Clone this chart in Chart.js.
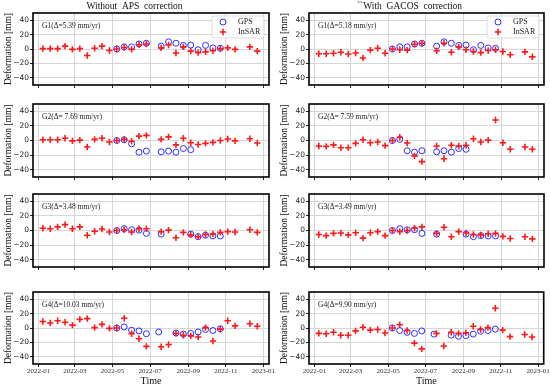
<!DOCTYPE html>
<html>
<head>
<meta charset="utf-8">
<script src="https://cdn.jsdelivr.net/npm/chart.js@4.4.0/dist/chart.umd.min.js"></script>
<style>
html, body { margin: 0; padding: 0; background: #fff; }
body { width: 550px; height: 388px; position: relative; overflow: hidden; }
canvas { position: absolute; }
</style>
</head>
<body>
<script>
'use strict';

// x axis tick labels (month starts)
const monthTicks = ['2022-01', '2022-03', '2022-05', '2022-07', '2022-09', '2022-11', '2023-01'];
const yTicks = [-40, -20, 0, 20, 40];

// Sentinel-1 acquisitions (12 day repeat, two gaps)
const insarDates = [
    '2022-01-08', '2022-01-20', '2022-02-01', '2022-02-13', '2022-02-25',
    '2022-03-09', '2022-03-21', '2022-04-02', '2022-04-14', '2022-04-26',
    '2022-05-08', '2022-05-20', '2022-06-01', '2022-06-13', '2022-06-25',
    '2022-07-19', '2022-07-31', '2022-08-12', '2022-08-24', '2022-09-05',
    '2022-09-17', '2022-09-29', '2022-10-11', '2022-10-23', '2022-11-04',
    '2022-11-16', '2022-12-10', '2022-12-22'
];
const gpsDates = [
    '2022-05-08', '2022-05-20', '2022-06-01', '2022-06-13', '2022-06-25',
    '2022-07-15', '2022-07-19', '2022-07-31', '2022-08-12', '2022-08-24',
    '2022-09-05', '2022-09-17', '2022-09-29', '2022-10-11', '2022-10-23'
];

// InSAR deformation [mm], without APS correction
const insarG1Raw = [0.5, 0.5, 0.5, 4, -0.5, 0.5, -9, 1, 4, -2, 0, 2, -0.5, 6, 7, 1.5, 5.5, -5.5, 3, -3, -5, -4, -2.5, 0.5, 1.5, -0.5, 3, -3];
const insarG2Raw = [1, 1, 1, 3, -0.5, 0.5, -9, 1.5, 3, -2, 0, 1.5, -1, 6, 7, 1.5, 5, -6, 3, -3, -5.5, -4, -2.5, 0, 2, -0.5, 2.5, -3.5];
const insarG3Raw = [3, 2.5, 5, 8, 2.5, 5, -6.5, -1, 2, -2, 0, 1, -2, 2.5, 2.5, -1.5, 0.5, -10, -2.5, -6, -8.5, -5.5, -5, -2.5, -1.5, -2, 1, -2.5];
const insarG4Raw = [9, 7, 10, 8, 4, 12, 13, 0.5, 5, -0.5, 0, 13.5, -8, -15, -25.5, -26, -23, -7.5, -10, -11, -12.5, 0.5, -18, -1.5, 10, 3, 6, 2.5];

// InSAR deformation [mm], with GACOS correction
const insarG1Gacos = [-6.5, -6.5, -6, -4.5, -7, -5.5, -12.5, -1.5, 1, -6, 0, -1, -1.5, 6.5, 8, -2.5, 8, -4.5, 3, -1, -3.5, -5, -2, -1, -3.5, -8, -4, -11];
const insarG2Gacos = [-7.5, -8, -6, -10, -10, -4, 1, -3, -2, -7, 0, 4.5, -3.5, -21, -29, -7.5, -25, -6.5, -7.5, -6.5, 2.5, -2, 0.5, 28, -3, -12, -9, -12];
const insarG3Gacos = [-5.5, -7, -4, -3.5, -6, -3, -10.5, -3, -1.5, -7, 0, -1.5, 0, 3, 5, -4, 4.5, -8.5, -1.5, -3.5, -5.5, -6, -4.5, -4, -8, -11, -8.5, -11.5];
const insarG4Gacos = [-7.5, -8, -6, -10, -10, -4, 1, -3, -2, -7, 0, 4.5, -3.5, -21, -29, -7.5, -25, -6, -7.5, -6.5, 2.5, -2, 0.5, 27.5, -3, -12, -9, -12.5];

// GPS deformation [mm] on gpsDates (null = no value)
const gpsG1Raw = [0, 3, 3, 7, 8, null, 4, 10, 8, 5, 5.5, -1, 5, 1.5, 1];
const gpsG2Raw = [0, 1, -4.5, -16, -14.5, null, -15.5, -14.5, -16, -11, -12.5, null, null, null, null];
const gpsG3Raw = [0, 2.5, 1, 0.5, -4, null, -5, null, null, null, -5, -8.5, -6.5, -7.5, -7.5];
const gpsG4Raw = [0, 1.5, -3, -4, -8, -5.5, null, null, -7, -8.5, -7.5, -5.5, -2, -3.5, -1];
const gpsG1Gacos = [0, 3, 3, 7, 8, null, 4, 10, 8, 5, 5.5, -1, 5, 1.5, 1];
const gpsG2Gacos = [0, 1.5, -14, -16, -14, null, -15.5, -14, -16, -11, -12, null, null, null, null];
const gpsG3Gacos = [0, 2.5, 1, 1, -4, null, -5, null, null, null, -5, -8.5, -7, -7.5, -7.5];
const gpsG4Gacos = [0, -3.5, -6, -7.5, -4, -8.5, null, null, -10, -11.5, -10.5, -8.5, -4.5, -3.5, -1.5];

const notesRaw = ['G1(\u0394=5.39 mm/yr)', 'G2(\u0394= 7.69 mm/yr)', 'G3(\u0394=3.48 mm/yr)', 'G4(\u0394=10.03 mm/yr)'];
const notesGacos = ['G1(\u0394=5.18 mm/yr)', 'G2(\u0394= 7.59 mm/yr)', 'G3(\u0394=3.49 mm/yr)', 'G4(\u0394=9.90 mm/yr)'];
const columnTitles = ['Without  APS  correction', '``With  GACOS  correction'];

const SERIF = "'Liberation Serif', 'Times New Roman', serif";
const SANS = "'DejaVu Sans', sans-serif";

function day(s) {
    const p = s.split('-').map(Number);
    return (Date.UTC(p[0], p[1] - 1, p[2] || 1) - Date.UTC(2022, 0, 1)) / 864e5;
}

function points(dates, vals) {
    const out = [];
    vals.forEach(function(v, i) {
        if (v !== null) out.push({x: day(dates[i]), y: v});
    });
    return out;
}

// black box round the plot area
const framePlugin = {
    id: 'frame',
    afterDraw: function(chart) {
        const a = chart.chartArea, ctx = chart.ctx;
        ctx.save();
        ctx.strokeStyle = '#000';
        ctx.lineWidth = 1.6;
        ctx.strokeRect(a.left, a.top, a.right - a.left, a.bottom - a.top);
        ctx.restore();
    }
};

// station label in the upper left corner
const notePlugin = {
    id: 'note',
    beforeDatasetsDraw: function(chart, args, opts) {
        if (!opts.text) return;
        const a = chart.chartArea, ctx = chart.ctx;
        ctx.save();
        ctx.font = '7.5px ' + SERIF;
        ctx.fillStyle = '#222';
        ctx.textBaseline = 'middle';
        ctx.fillText(opts.text, a.left + 9, a.top + 13);
        ctx.restore();
    }
};

// legend box inside the plot, top right
const insetLegendPlugin = {
    id: 'insetLegend',
    afterDatasetsDraw: function(chart, args, opts) {
        if (!opts.show) return;
        const a = chart.chartArea, ctx = chart.ctx;
        const w = 52, h = 22, x = a.right - w - 5, y = a.top + 3;
        ctx.save();
        ctx.beginPath();
        ctx.roundRect(x, y, w, h, 2);
        ctx.fillStyle = 'rgba(255,255,255,0.85)';
        ctx.fill();
        ctx.strokeStyle = '#d4d4d4';
        ctx.lineWidth = 0.8;
        ctx.stroke();
        ctx.font = '8px ' + SERIF;
        ctx.textBaseline = 'middle';
        chart.data.datasets.forEach(function(ds, i) {
            const cx = x + 11, cy = y + 6 + i * 10;
            ctx.strokeStyle = ds.borderColor;
            ctx.lineWidth = ds.borderWidth;
            ctx.beginPath();
            if (ds.pointStyle === 'cross') {
                const r = ds.pointRadius;
                ctx.moveTo(cx - r, cy); ctx.lineTo(cx + r, cy);
                ctx.moveTo(cx, cy - r); ctx.lineTo(cx, cy + r);
            } else {
                ctx.arc(cx, cy, ds.pointRadius, 0, Math.PI * 2);
            }
            ctx.stroke();
            ctx.fillStyle = '#222';
            ctx.fillText(ds.label, x + 26, cy);
        });
        ctx.restore();
    }
};

const rowTop = [13, 104, 194, 292];
const rowHeight = [72, 73, 73, 72];

function makePanel(col, row, gps, insar, note) {
    const bottomRow = row === 3;
    const topRow = row === 0;
    const padTop = topRow ? 0 : 8;
    const xHeight = bottomRow ? 24 : 6;
    const canvasTop = topRow ? 0 : rowTop[row] - padTop;
    const canvasH = (topRow ? rowTop[0] : padTop) + rowHeight[row] + xHeight;
    const yWidth = col === 0 ? 33 : 34;

    const canvas = document.createElement('canvas');
    canvas.width = col === 0 ? 290 : 275;
    canvas.height = canvasH;
    canvas.style.left = (col === 0 ? 0 : 275) + 'px';
    canvas.style.top = canvasTop + 'px';
    document.body.appendChild(canvas);

    const tickDays = monthTicks.map(function(m) { return day(m + '-01'); });

    return new Chart(canvas, {
        type: 'scatter',
        data: {
            datasets: [{
                label: 'GPS',
                data: points(gpsDates, gps),
                pointStyle: 'circle',
                pointRadius: 3,
                borderWidth: 1,
                borderColor: 'rgb(45,45,255)',
                backgroundColor: 'rgba(0,0,0,0)',
                order: 1
            }, {
                label: 'InSAR',
                data: points(insarDates, insar),
                pointStyle: 'cross',
                pointRadius: 3.2,
                borderWidth: 1.6,
                borderColor: 'rgb(255,25,25)',
                backgroundColor: 'rgb(255,25,25)',
                order: 0
            }]
        },
        options: {
            responsive: false,
            animation: false,
            events: [],
            layout: {padding: {top: padTop, left: 0, bottom: 0, right: col === 0 ? 21 : 6}},
            plugins: {
                legend: {display: false},
                tooltip: {enabled: false},
                title: {
                    display: topRow,
                    text: columnTitles[col],
                    color: '#111',
                    font: {family: SERIF, size: 9.5, weight: 'normal', lineHeight: 13 / 9.5},
                    padding: 0
                },
                note: {text: note},
                insetLegend: {show: topRow}
            },
            scales: {
                x: {
                    type: 'linear',
                    min: -9,
                    max: 374,
                    afterBuildTicks: function(s) { s.ticks = tickDays.map(function(v) { return {value: v}; }); },
                    afterFit: function(s) { s.height = xHeight; },
                    grid: {color: '#d6d6d6', lineWidth: 1, tickColor: '#222', tickLength: 3},
                    border: {display: false},
                    ticks: {
                        display: bottomRow,
                        autoSkip: false,
                        maxRotation: 0,
                        padding: 0,
                        color: '#333',
                        font: {family: SERIF, size: 7},
                        callback: function(v) { return monthTicks[tickDays.indexOf(v)]; }
                    },
                    title: {
                        display: bottomRow,
                        text: 'Time',
                        color: '#111',
                        font: {family: SERIF, size: 10, lineHeight: 1.2},
                        padding: {top: 0, bottom: 1}
                    }
                },
                y: {
                    min: -50,
                    max: 50,
                    afterBuildTicks: function(s) { s.ticks = yTicks.map(function(v) { return {value: v}; }); },
                    afterFit: function(s) { s.width = yWidth; },
                    grid: {color: '#d6d6d6', lineWidth: 1, tickColor: '#222', tickLength: 3},
                    border: {display: false},
                    ticks: {
                        padding: 1,
                        color: '#222',
                        font: {family: SANS, size: 7.5},
                        callback: function(v) { return v < 0 ? '\u2212' + Math.abs(v) : String(v); }
                    },
                    title: {
                        display: true,
                        text: 'Deformation [mm]',
                        color: '#111',
                        font: {family: SERIF, size: 9.5, lineHeight: 1.2},
                        padding: {top: col === 0 ? 3 : 4, bottom: 0}
                    }
                }
            }
        },
        plugins: [framePlugin, notePlugin, insetLegendPlugin]
    });
}

const gpsRaw = [gpsG1Raw, gpsG2Raw, gpsG3Raw, gpsG4Raw];
const gpsGacos = [gpsG1Gacos, gpsG2Gacos, gpsG3Gacos, gpsG4Gacos];
const insarRaw = [insarG1Raw, insarG2Raw, insarG3Raw, insarG4Raw];
const insarGacos = [insarG1Gacos, insarG2Gacos, insarG3Gacos, insarG4Gacos];

for (let r = 0; r < 4; r++) {
    makePanel(0, r, gpsRaw[r], insarRaw[r], notesRaw[r]);
    makePanel(1, r, gpsGacos[r], insarGacos[r], notesGacos[r]);
}
</script>
</body>
</html>
